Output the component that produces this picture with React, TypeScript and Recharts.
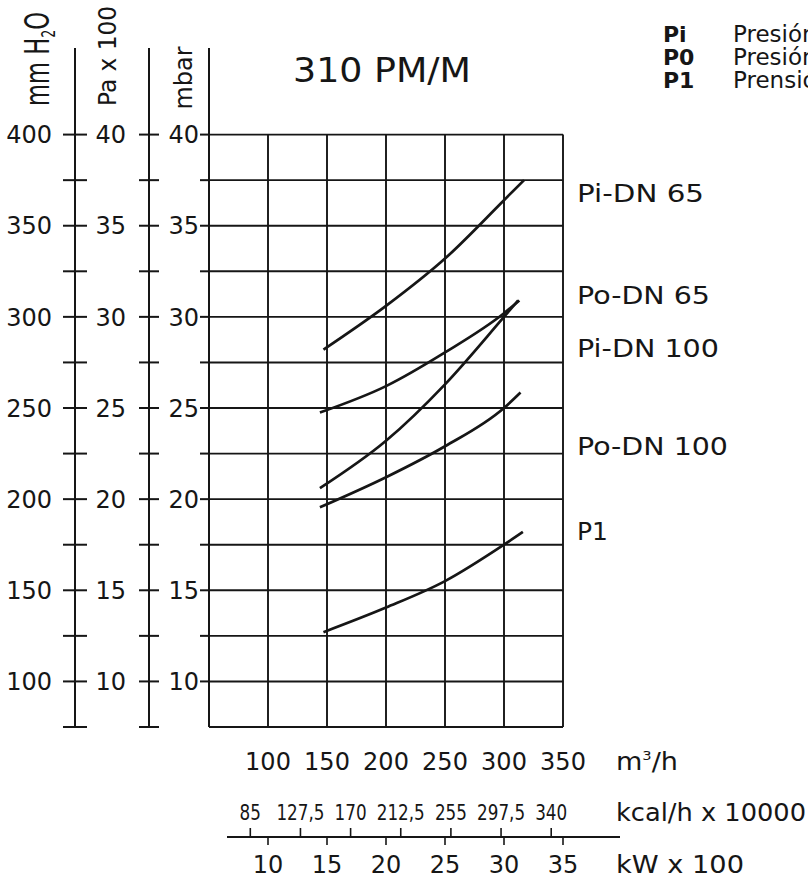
import { LineChart, Line, XAxis, YAxis, CartesianGrid, ReferenceLine } from 'recharts'

const FONT = '"DejaVu Sans", Verdana, sans-serif'
const INK = '#161616'

// pressure scales (mbar = Pa x 100, mm H2O ~ mbar x 10)
const MBAR_TICKS = [7.5, 10, 12.5, 15, 17.5, 20, 22.5, 25, 27.5, 30, 32.5, 35, 37.5, 40]
const MM_TICKS = [75, 100, 125, 150, 175, 200, 225, 250, 275, 300, 325, 350, 375, 400]
const MBAR_DOMAIN = [7.5, 44.75]
const MM_DOMAIN = [75, 447.5]

// bottom scales
const FLOW_TICKS = [100, 150, 200, 250, 300, 350] // m3/h
const KCAL_TICKS = [85, 127.5, 170, 212.5, 255, 297.5, 340] // kcal/h x 10000
const KW_TICKS = [10, 15, 20, 25, 30, 35] // kW x 100

// curves, flow in m3/h vs pressure in mbar
const PI_DN65_FLOW = [147, 200, 250, 300, 317]
const PI_DN65_P = [28.2, 30.6, 33.2, 36.4, 37.5]
const PO_DN65_FLOW = [144, 200, 250, 300, 313]
const PO_DN65_P = [24.75, 26.2, 28.05, 30.2, 30.9]
const PI_DN100_FLOW = [144, 200, 250, 300, 312]
const PI_DN100_P = [20.6, 23.2, 26.3, 30.0, 30.9]
const PO_DN100_FLOW = [144, 200, 250, 300, 314]
const PO_DN100_P = [19.55, 21.2, 22.9, 25.0, 25.85]
const P1_FLOW = [147, 200, 250, 300, 316]
const P1_P = [12.7, 14.05, 15.5, 17.5, 18.2]

const toPoints = (flow: number[], p: number[]) => flow.map((f, i) => ({ flow: f, p: p[i] }))

const SERIES = [
  { name: 'Pi-DN 65', points: toPoints(PI_DN65_FLOW, PI_DN65_P) },
  { name: 'Po-DN 65', points: toPoints(PO_DN65_FLOW, PO_DN65_P) },
  { name: 'Pi-DN 100', points: toPoints(PI_DN100_FLOW, PI_DN100_P) },
  { name: 'Po-DN 100', points: toPoints(PO_DN100_FLOW, PO_DN100_P) },
  { name: 'P1', points: toPoints(P1_FLOW, P1_P) },
]

// tick with a crossbar on the axis line, number every `every` units
const pressureTick =
  (every: number, left: number, right: number, gap: number, skipFirst = false) =>
  (props: any) => {
    const { x, y, payload } = props
    const v = payload.value
    return (
      <g>
        {!(skipFirst && v === MBAR_TICKS[0]) && (
          <line x1={x - left} x2={x + right} y1={y} y2={y} stroke={INK} strokeWidth={2} />
        )}
        {v % every === 0 && (
          <text x={x - gap} y={y} dy="0.36em" textAnchor="end" fontFamily={FONT} fontSize={24} fill={INK}>
            {v}
          </text>
        )}
      </g>
    )
  }

const flowTick = (props: any) => (
  <text x={props.x} y={props.y + 43} textAnchor="middle" fontFamily={FONT} fontSize={24} fill={INK}>
    {props.payload.value}
  </text>
)

const kcalTick = (props: any) => {
  const { x, y, payload } = props
  return (
    <g>
      <text
        transform={`translate(${x},${y + 43}) scale(0.8,1)`}
        textAnchor="middle"
        fontFamily={FONT}
        fontSize={21}
        fill={INK}
      >
        {String(payload.value).replace('.', ',')}
      </text>
      <line x1={x} x2={x} y1={y + 51} y2={y + 60} stroke={INK} strokeWidth={1.6} />
    </g>
  )
}

const kwTick = (props: any) => {
  const { x, y, payload } = props
  return (
    <g>
      <line x1={x} x2={x} y1={y + 20} y2={y + 28} stroke={INK} strokeWidth={1.6} />
      <text x={x} y={y + 56} textAnchor="middle" fontFamily={FONT} fontSize={24} fill={INK}>
        {payload.value}
      </text>
    </g>
  )
}

const txt = { fontFamily: FONT, fill: INK }

export default function App() {
  return (
    <div style={{ position: 'absolute', left: 0, top: 0, width: 808, height: 882, background: '#fff' }}>
      <LineChart width={808} height={882} margin={{ top: 48, right: 245, bottom: 0, left: 0 }}>
        <CartesianGrid
          vertical={false}
          xAxisId="flow"
          yAxisId="a_mbar"
          horizontalValues={MBAR_TICKS}
          stroke={INK}
          strokeWidth={1.9}
        />
        <XAxis
          xAxisId="flow"
          type="number"
          dataKey="flow"
          domain={[50, 350]}
          allowDataOverflow
          ticks={FLOW_TICKS}
          interval={0}
          height={50}
          axisLine={false}
          tickLine={false}
          tickSize={0}
          tickMargin={0}
          tick={flowTick}
        />
        <XAxis
          xAxisId="kcal"
          type="number"
          dataKey="kcal"
          domain={[50, 350]}
          allowDataOverflow
          ticks={KCAL_TICKS}
          interval={0}
          height={40}
          axisLine={false}
          tickLine={false}
          tickSize={0}
          tickMargin={0}
          tick={kcalTick}
        />
        <XAxis
          xAxisId="kw"
          type="number"
          dataKey="kw"
          domain={[5, 35]}
          allowDataOverflow
          ticks={KW_TICKS}
          interval={0}
          height={65}
          axisLine={false}
          tickLine={false}
          tickSize={0}
          tickMargin={0}
          tick={kwTick}
        />
        <YAxis
          yAxisId="a_mbar"
          type="number"
          domain={MBAR_DOMAIN}
          allowDataOverflow
          ticks={MBAR_TICKS}
          interval={0}
          width={60}
          axisLine={{ stroke: INK, strokeWidth: 2 }}
          tickLine={false}
          tickSize={0}
          tickMargin={0}
          tick={pressureTick(5, 9, 0, 10, true)}
        />
        <YAxis
          yAxisId="b_pa"
          type="number"
          domain={MBAR_DOMAIN}
          allowDataOverflow
          ticks={MBAR_TICKS}
          interval={0}
          width={74}
          axisLine={{ stroke: INK, strokeWidth: 2 }}
          tickLine={false}
          tickSize={0}
          tickMargin={0}
          tick={pressureTick(5, 10, 10, 23)}
        />
        <YAxis
          yAxisId="c_mm"
          type="number"
          domain={MM_DOMAIN}
          allowDataOverflow
          ticks={MM_TICKS}
          interval={0}
          width={75}
          axisLine={{ stroke: INK, strokeWidth: 2 }}
          tickLine={false}
          tickSize={0}
          tickMargin={0}
          tick={pressureTick(50, 12, 12, 23)}
        />
        {FLOW_TICKS.map((f) => (
          <ReferenceLine
            key={f}
            xAxisId="flow"
            yAxisId="a_mbar"
            segment={[
              { x: f, y: MBAR_TICKS[0] },
              { x: f, y: MBAR_TICKS[MBAR_TICKS.length - 1] },
            ]}
            stroke={INK}
            strokeWidth={1.9}
          />
        ))}
        {SERIES.map((s) => (
          <Line
            key={s.name}
            name={s.name}
            data={s.points}
            dataKey="p"
            xAxisId="flow"
            yAxisId="a_mbar"
            type="monotone"
            stroke={INK}
            strokeWidth={2.7}
            dot={false}
            isAnimationActive={false}
          />
        ))}
      </LineChart>

      {/* titles, curve names and legend */}
      <svg width={808} height={882} style={{ position: 'absolute', left: 0, top: 0, pointerEvents: 'none' }}>
        <text x={293} y={82} fontSize={34} textLength={178} lengthAdjust="spacingAndGlyphs" {...txt}>
          310 PM/M
        </text>

        <text transform="translate(49,59) rotate(-90)" textAnchor="middle" fontSize={34} textLength={94} lengthAdjust="spacingAndGlyphs" {...txt}>
          mm H<tspan fontSize={19} dy={6}>2</tspan>
          <tspan dy={-6}>O</tspan>
        </text>
        <text transform="translate(116,56) rotate(-90)" textAnchor="middle" fontSize={24} textLength={100} lengthAdjust="spacingAndGlyphs" {...txt}>
          Pa x 100
        </text>
        <text transform="translate(192,78) rotate(-90)" textAnchor="middle" fontSize={24} textLength={63} lengthAdjust="spacingAndGlyphs" {...txt}>
          mbar
        </text>

        <text x={577} y={202} fontSize={25} textLength={127} lengthAdjust="spacingAndGlyphs" {...txt}>Pi-DN 65</text>
        <text x={577} y={304} fontSize={25} textLength={133} lengthAdjust="spacingAndGlyphs" {...txt}>Po-DN 65</text>
        <text x={577} y={357} fontSize={25} textLength={142} lengthAdjust="spacingAndGlyphs" {...txt}>Pi-DN 100</text>
        <text x={577} y={455} fontSize={25} textLength={151} lengthAdjust="spacingAndGlyphs" {...txt}>Po-DN 100</text>
        <text x={577} y={540} fontSize={25} {...txt}>P1</text>

        <text x={616} y={770} fontSize={24} textLength={62} lengthAdjust="spacingAndGlyphs" {...txt}>
          m<tspan fontSize={13} dy={-10}>3</tspan>
          <tspan dy={10}>/h</tspan>
        </text>
        <text x={616} y={821} fontSize={24} textLength={190} lengthAdjust="spacingAndGlyphs" {...txt}>kcal/h x 10000</text>
        <text x={616} y={873} fontSize={24} textLength={128} lengthAdjust="spacingAndGlyphs" {...txt}>kW x 100</text>
        <line x1={227} x2={620} y1={837} y2={837} stroke={INK} strokeWidth={1.8} />

        <text x={663} y={42} fontSize={22} fontWeight="bold" {...txt}>Pi</text>
        <text x={663} y={65} fontSize={22} fontWeight="bold" {...txt}>P0</text>
        <text x={663} y={88} fontSize={22} fontWeight="bold" {...txt}>P1</text>
        <text x={733} y={42} fontSize={23} {...txt}>Presión</text>
        <text x={733} y={65} fontSize={23} {...txt}>Presión</text>
        <text x={733} y={88} fontSize={23} {...txt}>Prensión</text>
      </svg>
    </div>
  )
}
